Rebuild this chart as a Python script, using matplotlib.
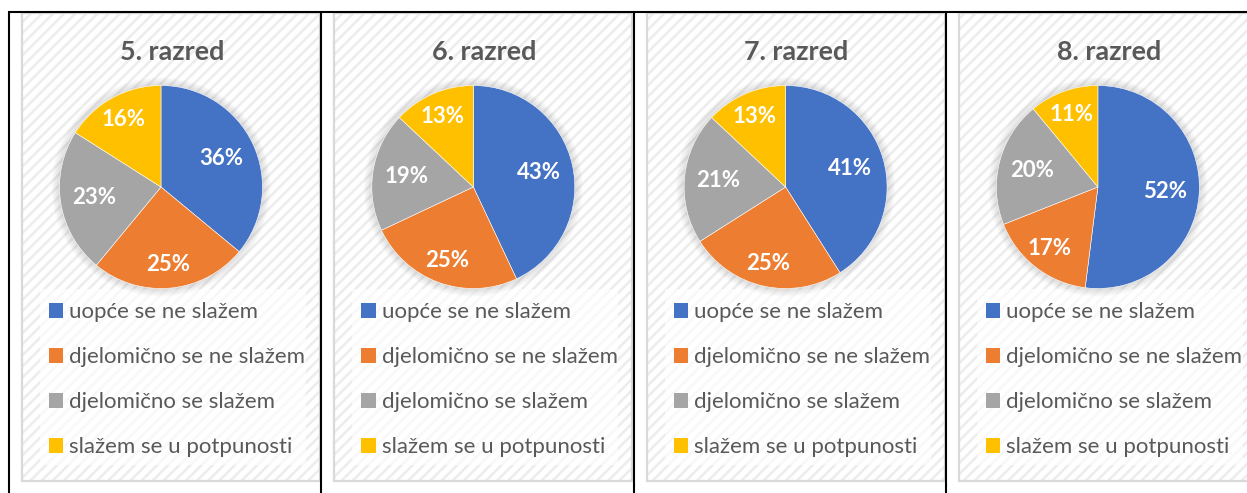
import matplotlib
matplotlib.use("Agg")
import matplotlib.pyplot as plt
from matplotlib.patches import Rectangle, Circle, Patch
import numpy as np

# ---- data ----
titles = ["5. razred", "6. razred", "7. razred", "8. razred"]
categories = ["uopće se ne slažem", "djelomično se ne slažem",
              "djelomično se slažem", "slažem se u potpunosti"]
razred5 = [36, 25, 23, 16]
razred6 = [43, 25, 19, 13]
razred7 = [41, 25, 21, 13]
razred8 = [52, 17, 20, 11]
series = [razred5, razred6, razred7, razred8]
colors = ["#4472C4", "#ED7D31", "#A5A5A5", "#FFC000"]

plt.rcParams['font.family'] = ['Lato', 'DejaVu Sans']
plt.rcParams['hatch.linewidth'] = 1.9

W, H = 1247, 493
fig = plt.figure(figsize=(W / 100, H / 100), dpi=100)


def px(x0, y0, w, h):
    return [x0 / W, 1 - (y0 + h) / H, w / W, h / H]


bg = fig.add_axes([0, 0, 1, 1])
bg.set_xlim(0, W)
bg.set_ylim(H, 0)
bg.axis("off")

pitch = 312.3
panel_left0 = 22
panel_w, panel_top, panel_h = 298, 13, 468
R = 101.5
label_dist = [0.66, 0.77, 0.67, 0.76]

for i, (title, vals) in enumerate(zip(titles, series)):
    left = panel_left0 + pitch * i
    # hatched chart background
    bg.add_patch(Rectangle((left, panel_top), panel_w, panel_h, facecolor="white",
                           edgecolor="#ededed", hatch="///", linewidth=0, zorder=1))
    bg.add_patch(Rectangle((left, panel_top), panel_w, panel_h, facecolor="none",
                           edgecolor="#d9d9d9", linewidth=1.6, zorder=2))
    # legend area (lighter)
    bg.add_patch(Rectangle((left + 18, 289), 266, 176, facecolor="white",
                           edgecolor="none", alpha=0.65, zorder=2))
    cx = left + 139
    cy = 187
    # soft glow around pie
    for k in range(1, 9):
        bg.add_patch(Circle((cx, cy), R + k, facecolor="#7f7f7f", alpha=0.03,
                            edgecolor="none", zorder=2))
    bg.text(left + 150, 52, title, ha="center", va="center", fontsize=19.4,
            fontweight="bold", color="#595959", zorder=3)

    ax = fig.add_axes(px(cx - R, cy - R, 2 * R, 2 * R))
    ax.set_zorder(5)
    ax.patch.set_alpha(0)
    wedges, _ = ax.pie(vals, colors=colors, startangle=90, counterclock=False,
                       radius=1, wedgeprops=dict(linewidth=0.4, edgecolor="white"))
    ax.set_xlim(-1, 1)
    ax.set_ylim(-1, 1)
    ax.set_aspect("equal")
    ax.axis("off")
    for j, (w, v) in enumerate(zip(wedges, vals)):
        ang = np.deg2rad((w.theta1 + w.theta2) / 2)
        d = label_dist[j]
        ax.text(d * np.cos(ang), d * np.sin(ang), f"{v}%", ha="center", va="center",
                fontsize=16, fontweight="bold", color="white")

    handles = [Patch(facecolor=c, edgecolor="none") for c in colors]
    leg = ax.legend(handles, categories, loc="upper left",
                    bbox_to_anchor=((left + 27) / W, 1 - 302.5 / H),
                    bbox_transform=fig.transFigure, frameon=False, fontsize=16,
                    handlelength=0.64, handleheight=0.64, handletextpad=0.28,
                    labelspacing=1.12, borderpad=0, borderaxespad=0)
    for t in leg.get_texts():
        t.set_color("#595959")

# table lines
lw = 1.5
bg.plot([7.5, W], [12, 12], color="black", lw=lw, zorder=10, solid_capstyle="butt")
for x in [8.5, 321, 634, 946]:
    bg.plot([x, x], [12, H], color="black", lw=lw, zorder=10, solid_capstyle="butt")

fig.savefig("out.png", dpi=100)
